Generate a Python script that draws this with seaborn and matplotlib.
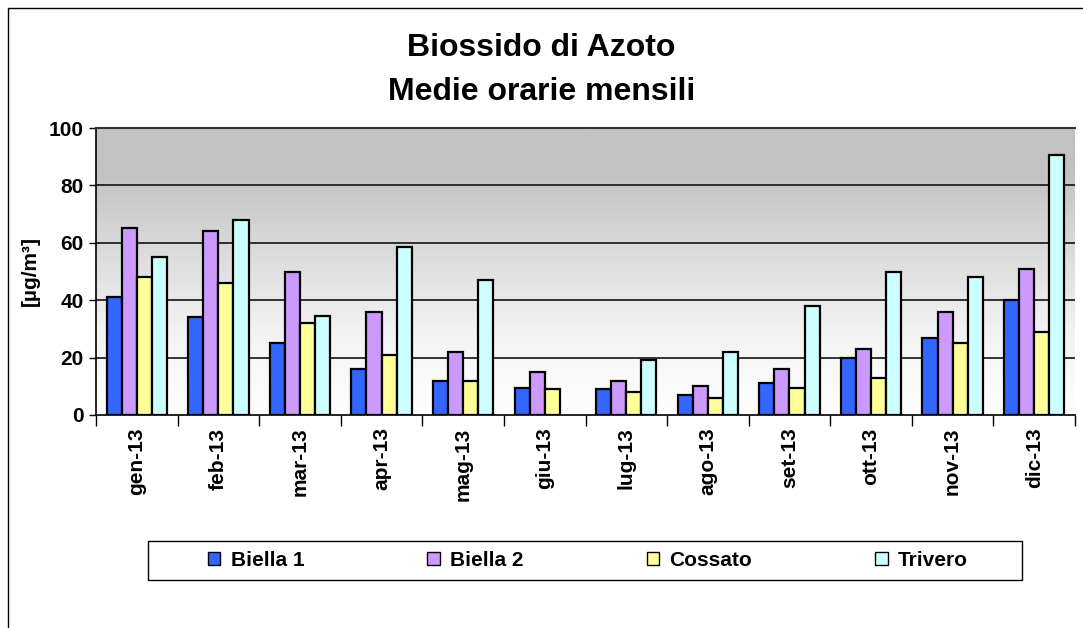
import numpy as np
import pandas as pd
import seaborn as sns
import matplotlib.pyplot as plt
from matplotlib.patches import Rectangle
from matplotlib.colors import LinearSegmentedColormap

months = ['gen-13', 'feb-13', 'mar-13', 'apr-13', 'mag-13', 'giu-13',
          'lug-13', 'ago-13', 'set-13', 'ott-13', 'nov-13', 'dic-13']
biella1 = [41, 34, 25, 16, 12, 9.5, 9, 7, 11, 20, 27, 40]
biella2 = [65, 64, 50, 36, 22, 15, 12, 10, 16, 23, 36, 51]
cossato = [48, 46, 32, 21, 12, 9, 8, 6, 9.5, 13, 25, 29]
trivero = [55, 68, 34.5, 58.5, 47, np.nan, 19, 22, 38, 50, 48, 90.5]
stations = ['Biella 1', 'Biella 2', 'Cossato', 'Trivero']
colors = ['#3366ff', '#cc99ff', '#ffff99', '#ccffff']

sns.set_style('white')
plt.rcParams['font.family'] = ['Liberation Sans', 'DejaVu Sans']
plt.rcParams['text.color'] = 'black'
plt.rcParams['axes.labelcolor'] = 'black'
plt.rcParams['xtick.color'] = 'black'
plt.rcParams['ytick.color'] = 'black'

df = pd.DataFrame({'Mese': months * 4,
                   'Stazione': np.repeat(stations, len(months)),
                   'Valore': biella1 + biella2 + cossato + trivero})

fig = plt.figure(figsize=(10.83, 6.28), dpi=100)
ax = fig.add_axes([96 / 1083, 1 - 415 / 628, 979 / 1083, 287 / 628])

# gradient background of the plot area
cmap = LinearSegmentedColormap.from_list(
    'bg', [(0, '#ffffff'), (0.3, '#f2f2f2'), (0.65, '#d4d4d4'), (0.85, '#c2c2c2'), (1, '#c2c2c2')])
grad = np.linspace(0, 1, 256).reshape(-1, 1)
ax.imshow(grad, extent=[-0.5, 11.5, 0, 100], origin='lower', aspect='auto',
          cmap=cmap, zorder=0)

sns.barplot(data=df, x='Mese', y='Valore', hue='Stazione', palette=colors,
            saturation=1, width=0.74, gap=0, edgecolor='black', linewidth=1.6,
            ax=ax, zorder=3, legend=False)

ax.set_xlim(-0.5, 11.5)
ax.set_ylim(0, 100)
ax.set_yticks([0, 20, 40, 60, 80, 100])
for y in [20, 40, 60, 80]:
    ax.axhline(y, color='black', lw=1.1, zorder=1)
ax.set_xlabel('')
ax.set_ylabel('[µg/m³]', fontsize=15, fontweight='bold', labelpad=6)
ax.tick_params(axis='x', length=0, pad=9, labelsize=15, labelrotation=90)
ax.tick_params(axis='y', length=5, direction='out', left=True, labelsize=15,
               width=1, pad=4)
ax.set_xticks(np.arange(-0.5, 12, 1), minor=True)
ax.tick_params(axis='x', which='minor', length=8, direction='out', bottom=True, width=1)
for lab in ax.get_xticklabels() + ax.get_yticklabels():
    lab.set_fontweight('bold')
for s in ['left', 'bottom']:
    ax.spines[s].set_color('black')
    ax.spines[s].set_linewidth(1.2)
ax.spines['top'].set_color('#333333')
ax.spines['top'].set_linewidth(1.5)
ax.spines['right'].set_visible(False)

fig.text(0.5, 1 - 48 / 628, 'Biossido di Azoto', ha='center', va='center',
         fontsize=23, fontweight='bold')
fig.text(0.5, 1 - 92 / 628, 'Medie orarie mensili', ha='center', va='center',
         fontsize=23, fontweight='bold')

# legend entries without frame, box drawn separately
handles = [Rectangle((0, 0), 1, 1, facecolor=c, edgecolor='black', lw=1) for c in colors]
fig.legend(handles, stations, loc='center', ncol=4,
           bbox_to_anchor=(588 / 1083, 1 - 560 / 628),
           frameon=False, prop={'weight': 'bold', 'size': 15},
           handlelength=0.6, handleheight=0.6, handletextpad=0.5,
           columnspacing=5.9, borderaxespad=0)
fig.patches.append(Rectangle((148 / 1083, 1 - 580 / 628), 874 / 1083, 39 / 628,
                             transform=fig.transFigure, fill=False,
                             edgecolor='black', lw=1))

fig.patches.append(Rectangle((8 / 1083, -0.1), 1.2, 1 - 8 / 628 + 0.1,
                             transform=fig.transFigure, fill=False,
                             edgecolor='black', lw=1))

fig.savefig('out.png', dpi=100)
